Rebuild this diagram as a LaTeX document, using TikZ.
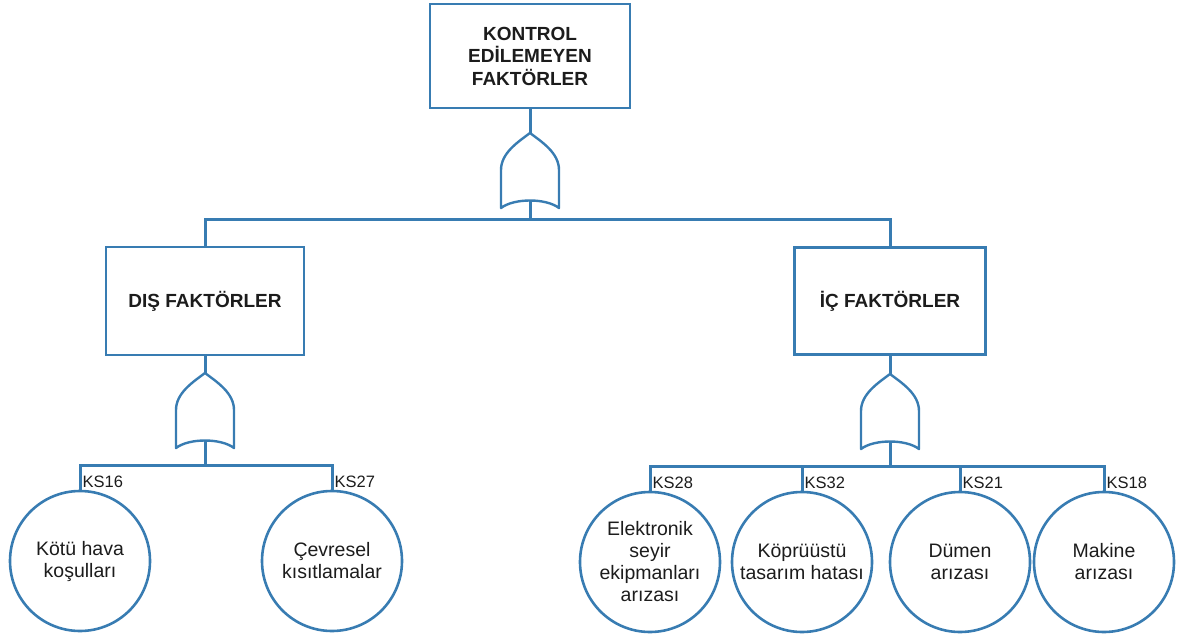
\documentclass[tikz,border=0pt]{standalone}
\usepackage{fontspec}
\setmainfont{Liberation Sans}
\begin{document}
\definecolor{ftblue}{RGB}{56,124,178}
\definecolor{fttext}{RGB}{28,28,28}
\tikzset{
  every node/.style={text=fttext},
  eventbox/.style={draw=ftblue, line width=2.6pt, rectangle, align=center,
    font=\fontsize{19}{22.5}\selectfont\bfseries},
  basic/.style={draw=ftblue, line width=2.6pt, circle, minimum size=140pt,
    inner sep=0pt, align=center, font=\fontsize{19.5}{22}\selectfont},
  kslabel/.style={anchor=south west, inner sep=1.5pt, xshift=1pt,
    font=\fontsize{16.5}{18}\selectfont},
  link/.style={draw=ftblue, line width=3pt},
  gate/.style={draw=ftblue, line width=2.4pt, line join=round, fill=white},
  orgate/.pic={
    \draw[gate] (0,0) .. controls (-12,9) and (-29,20) .. (-29,37) -- (-29,75)
      .. controls (-16,65) and (16,65) .. (29,75) -- (29,37)
      .. controls (29,20) and (12,9) .. (0,0) -- cycle;
    \coordinate (-in) at (0,0);
    \coordinate (-out) at (0,67.5);
  }
}
\begin{tikzpicture}[x=1pt, y=-1pt]
\useasboundingbox (0,0) rectangle (1179,639);

% events
\node[eventbox, minimum width=200pt, minimum height=104pt] (top) at (530,56)
  {KONTROL\\EDİLEMEYEN\\FAKTÖRLER};
\node[eventbox, minimum width=198pt, minimum height=108pt] (dis) at (205,301)
  {DIŞ FAKTÖRLER};
\node[eventbox, minimum width=191pt, minimum height=107pt] (ic) at (890,301)
  {İÇ FAKTÖRLER};

% OR gates
\pic (g0) at (530,133) {orgate};
\pic (g1) at (205,373) {orgate};
\pic (g2) at (890,374) {orgate};

% basic events
\node[basic] (c1) at (80,561)   {Kötü hava\\koşulları};
\node[basic] (c2) at (332,561)  {Çevresel\\kısıtlamalar};
\node[basic] (c3) at (650,562)  {Elektronik\\seyir\\ekipmanları\\arızası};
\node[basic] (c4) at (802,562)  {Köprüüstü\\tasarım hatası};
\node[basic] (c5) at (960,562)  {Dümen\\arızası};
\node[basic] (c6) at (1104,562) {Makine\\arızası};

% bus bars under each gate
\coordinate (b0) at (530,220);
\coordinate (b1) at (205,465);
\coordinate (b2) at (890,466);

% connectors
\draw[link] (top.south) -- (g0-in);
\draw[link] (g0-out) -- (b0);
\draw[link] (dis.north) |- (b0) -| (ic.north);

\draw[link] (dis.south) -- (g1-in);
\draw[link] (g1-out) -- (b1);
\draw[link] (c1.north) |- (b1) -| (c2.north);

\draw[link] (ic.south) -- (g2-in);
\draw[link] (g2-out) -- (b2);
\draw[link] (c3.north) |- (b2) -| (c6.north);
\draw[link] (c4.north) -- (c4.north |- b2);
\draw[link] (c5.north) -- (c5.north |- b2);

% event codes
\node[kslabel] (k1) at (c1.north) {KS16};
\node[kslabel] (k2) at (c2.north) {KS27};
\node[kslabel] (k3) at (c3.north) {KS28};
\node[kslabel] (k4) at (c4.north) {KS32};
\node[kslabel] (k5) at (c5.north) {KS21};
\node[kslabel] (k6) at (c6.north) {KS18};
\end{tikzpicture}
\end{document}
